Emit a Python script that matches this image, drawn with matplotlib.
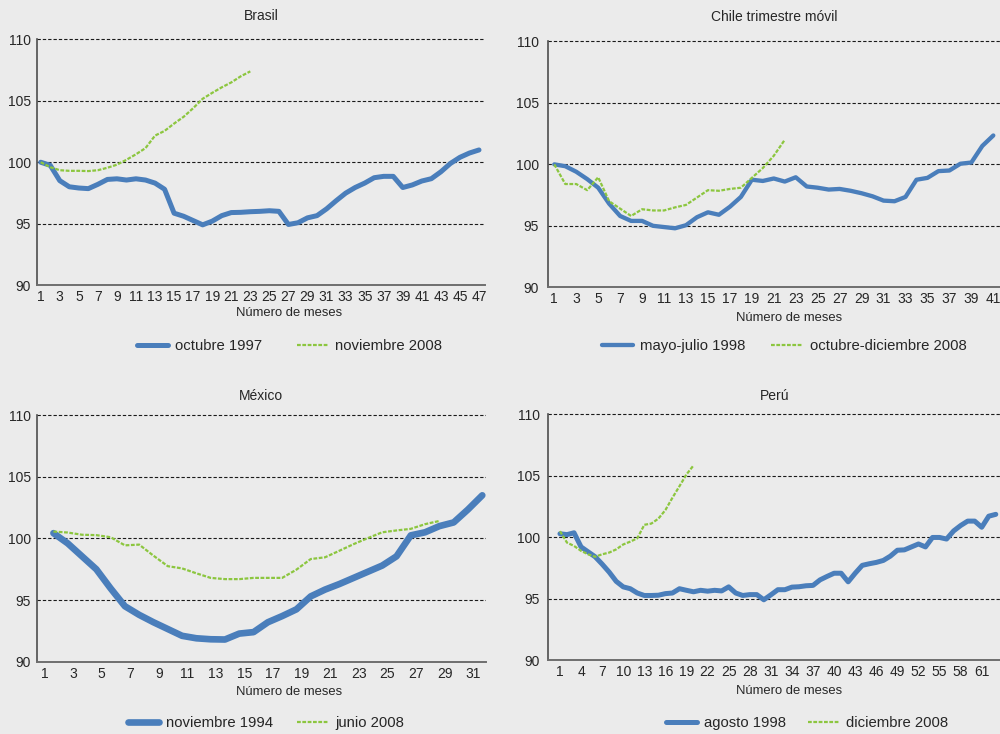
import matplotlib
matplotlib.use("Agg")
import matplotlib.pyplot as plt
import numpy as np

plt.rcParams['font.family'] = ['Liberation Sans', 'DejaVu Sans']

# ---------------- data ----------------
brasil_oct1997 = [100.0, 99.75, 98.5, 98.0, 97.9, 97.85, 98.2, 98.6, 98.65, 98.55,
                  98.65, 98.55, 98.3, 97.8, 95.85, 95.6, 95.25, 94.9, 95.2, 95.65,
                  95.9, 95.92, 95.97, 96.0, 96.05, 96.0, 94.93, 95.07, 95.47, 95.65,
                  96.2, 96.86, 97.48, 97.94, 98.3, 98.74, 98.85, 98.85, 97.94, 98.15,
                  98.47, 98.66, 99.22, 99.9, 100.4, 100.75, 101.0]
brasil_nov2008 = [100.0, 99.6, 99.35, 99.3, 99.3, 99.28, 99.35, 99.55, 99.8, 100.2,
                  100.65, 101.15, 102.17, 102.55, 103.15, 103.7, 104.4, 105.17, 105.65,
                  106.1, 106.5, 107.0, 107.4]

chile_mayjul1998 = [100.0, 99.85, 99.4, 98.8, 98.1, 96.8, 95.8, 95.4, 95.4, 95.0,
                    94.9, 94.8, 95.05, 95.7, 96.1, 95.9, 96.55, 97.35, 98.75, 98.65,
                    98.85, 98.6, 98.95, 98.2, 98.1, 97.95, 98.0, 97.85, 97.65, 97.4,
                    97.05, 97.0, 97.35, 98.75, 98.9, 99.45, 99.5, 100.05, 100.15, 101.5,
                    102.35]
chile_octdic2008 = [100.0, 98.4, 98.4, 97.9, 98.95, 97.0, 96.4, 95.8, 96.35, 96.25,
                    96.25, 96.5, 96.7, 97.3, 97.9, 97.85, 98.0, 98.1, 98.9, 99.7,
                    100.7, 102.0]

mexico_nov1994 = [100.43, 99.6, 98.55, 97.5, 95.95, 94.5, 93.8, 93.2, 92.65, 92.1,
                  91.9, 91.82, 91.8, 92.28, 92.4, 93.2, 93.7, 94.25, 95.3, 95.85,
                  96.3, 96.8, 97.3, 97.8, 98.55, 100.25, 100.5, 101.0, 101.3, 102.35,
                  103.5]
mexico_jun2008 = [100.56, 100.48, 100.3, 100.27, 100.1, 99.44, 99.5, 98.6, 97.75, 97.57,
                  97.17, 96.8, 96.7, 96.7, 96.8, 96.8, 96.8, 97.47, 98.33, 98.47,
                  99.0, 99.54, 100.03, 100.5, 100.65, 100.78, 101.16, 101.42]

peru_ago1998 = [100.27, 100.2, 100.35, 99.2, 98.8, 98.4, 97.8, 97.15, 96.4, 95.95,
                95.8, 95.45, 95.25, 95.25, 95.27, 95.4, 95.45, 95.8, 95.67, 95.55,
                95.67, 95.6, 95.67, 95.62, 95.95, 95.45, 95.25, 95.32, 95.32, 94.9,
                95.3, 95.72, 95.72, 95.93, 95.96, 96.04, 96.07, 96.52, 96.8, 97.06,
                97.06, 96.36, 97.06, 97.7, 97.83, 97.94, 98.1, 98.45, 98.93, 98.96,
                99.2, 99.44, 99.2, 99.97, 99.97, 99.84, 100.5, 100.94, 101.3, 101.3,
                100.8, 101.7, 101.85]
peru_dic2008 = [100.48, 99.55, 99.28, 98.88, 98.6, 98.4, 98.6, 98.74, 99.0, 99.4,
                99.63, 99.9, 101.0, 101.1, 101.5, 102.2, 103.2, 104.14, 105.1, 105.83]

titles = ["Brasil", "Chile trimestre móvil", "México", "Perú"]
legend_labels = [("octubre 1997", "noviembre 2008"),
                 ("mayo-julio 1998", "octubre-diciembre 2008"),
                 ("noviembre 1994", "junio 2008"),
                 ("agosto 1998", "diciembre 2008")]
xlabel_text = "Número de meses"
y_ticks = [90, 95, 100, 105, 110]

# ---------------- style ----------------
BG = '#ebebeb'
BLUE = '#4a7ebb'
GREEN = '#8cc63f'
TXT = '#262626'

fig = plt.figure(figsize=(10.0, 7.34), dpi=100, facecolor=BG)

panels = [
    dict(rect=[0.0367, 0.6117, 0.4483, 0.3379], s1=brasil_oct1997, s2=brasil_nov2008,
         lw=3.6, xlim=(0.58, 47.63), tickstep=2, tickoff=0.0, ylpad=4.0,
         title_y=0.9782, xl=(0.289, 0.5736), leg=(0.2895, 0.529), colsp=2.3),
    dict(rect=[0.5477, 0.6086, 0.4523, 0.3383], s1=chile_mayjul1998, s2=chile_octdic2008,
         lw=3.1, xlim=(0.4, 41.61), tickstep=2, tickoff=0.0, ylpad=6.2,
         title_y=0.9768, xl=(0.789, 0.5668), leg=(0.784, 0.529), colsp=1.7),
    dict(rect=[0.0367, 0.0985, 0.4493, 0.3392], s1=mexico_nov1994, s2=mexico_jun2008,
         lw=4.8, xlim=(-0.17, 31.26), tickstep=2, tickoff=-0.63, ylpad=4.0,
         title_y=0.4605, xl=(0.289, 0.0568), leg=(0.266, 0.0145), colsp=1.6),
    dict(rect=[0.5483, 0.1008, 0.4517, 0.3383], s1=peru_ago1998, s2=peru_dic2008,
         lw=3.6, xlim=(-0.66, 63.6), tickstep=3, tickoff=0.0, ylpad=5.8,
         title_y=0.4605, xl=(0.789, 0.0582), leg=(0.807, 0.0145), colsp=1.45),
]

for i, p in enumerate(panels):
    ax = fig.add_axes(p['rect'])
    ax.set_facecolor(BG)
    x1 = np.arange(1, len(p['s1']) + 1)
    x2 = np.arange(1, len(p['s2']) + 1)

    for yv in [95, 100, 105, 110]:
        ax.axhline(yv, color='#1a1a1a', lw=0.8, ls=(0, (3.0, 1.8)), zorder=1)

    l1, = ax.plot(x1, p['s1'], color=BLUE, lw=p['lw'], solid_capstyle='round',
                  solid_joinstyle='round', zorder=3, label=legend_labels[i][0])
    l2, = ax.plot(x2, p['s2'], color=GREEN, lw=1.6, ls=(0, (1.7, 0.7)),
                  zorder=4, label=legend_labels[i][1])

    ax.set_ylim(90, 110.2)
    ax.set_xlim(*p['xlim'])
    ax.set_yticks(y_ticks)
    ax.set_yticklabels([str(v) for v in y_ticks])
    n = len(p['s1'])
    labs = np.arange(1, n + 1, p['tickstep'])
    ax.set_xticks(labs + p['tickoff'])
    ax.set_xticklabels([str(v) for v in labs])
    ax.tick_params(axis='both', length=0, labelsize=10, colors=TXT)
    ax.tick_params(axis='x', pad=3.6)
    ax.tick_params(axis='y', pad=p['ylpad'])

    for side in ['top', 'right']:
        ax.spines[side].set_visible(False)
    ax.spines['left'].set_color('#4d4d4d')
    ax.spines['left'].set_linewidth(1.2)
    ax.spines['bottom'].set_color('#6e6e6e')
    ax.spines['bottom'].set_linewidth(1.4)
    ax.spines['left'].set_bounds(90, 110)

    cx = p['rect'][0] + p['rect'][2] / 2
    fig.text(cx, p['title_y'], titles[i], ha='center', va='center', fontsize=10, color=TXT)
    fig.text(p['xl'][0], p['xl'][1], xlabel_text, ha='center', va='center',
             fontsize=9.4, color=TXT)

    ax.legend(handles=[l1, l2], loc='center', bbox_to_anchor=p['leg'],
              bbox_transform=fig.transFigure, ncol=2, frameon=False,
              fontsize=10.7, handlelength=2.1, handletextpad=0.5,
              columnspacing=p['colsp'], labelcolor=TXT, borderpad=0, borderaxespad=0)

fig.savefig('out.png', dpi=100, facecolor=BG)
